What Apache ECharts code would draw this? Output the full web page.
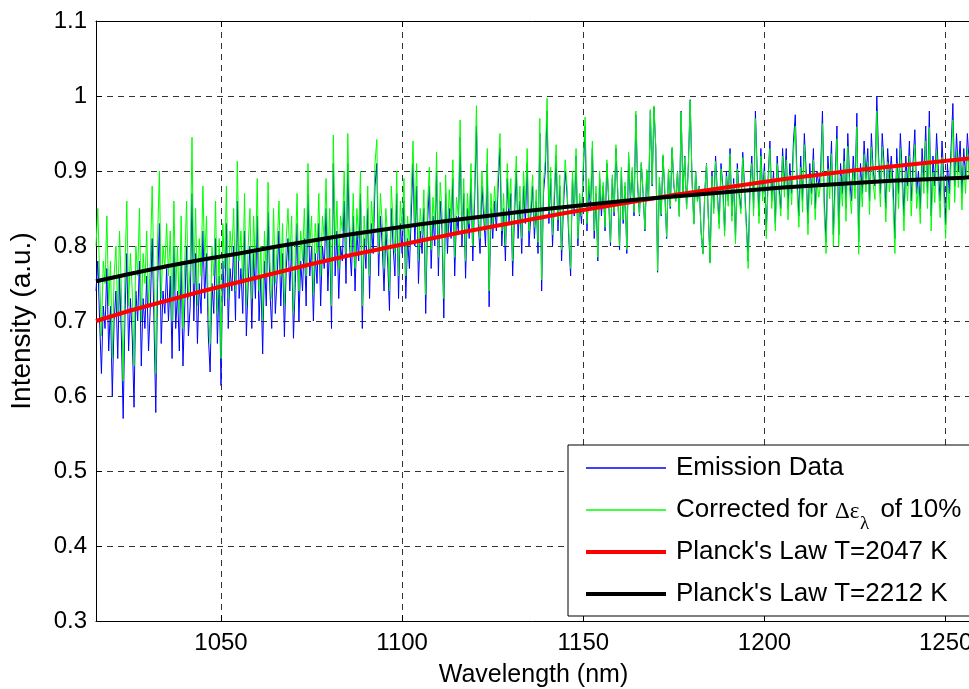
<!DOCTYPE html>
<html>
<head>
<meta charset="utf-8">
<script src="https://cdn.jsdelivr.net/npm/echarts@6/dist/echarts.min.js"></script>
<style>
  html, body { margin: 0; padding: 0; background: #ffffff; }
  #chart { width: 969px; height: 689px; }
</style>
</head>
<body>
<div id="chart"></div>
<script>
// Spectrum sampling: first wavelength and step (nm)
const wavelengthStart = 1015.5;
const wavelengthStep = 0.5;

// Measured emission intensity (a.u.), one value per 0.5 nm
const emissionData = [
  0.74,0.78,0.70,0.63,0.72,0.69,0.77,0.66,0.72,0.60,0.70,0.74,0.65,0.76,0.68,0.57,0.71,0.79,0.66,0.73,
  0.68,0.585,0.74,0.70,0.78,0.64,0.73,0.69,0.76,0.66,0.72,0.81,0.70,0.578,0.75,0.83,0.67,0.74,0.71,0.77,
  0.70,0.76,0.65,0.80,0.69,0.74,0.66,0.78,0.64,0.72,0.80,0.68,0.72,0.87,0.70,0.79,0.67,0.75,0.71,0.82,
  0.73,0.79,0.68,0.632,0.75,0.71,0.81,0.67,0.76,0.614,0.78,0.72,0.83,0.69,0.77,0.74,0.80,0.70,0.86,0.73,
  0.77,0.71,0.82,0.68,0.75,0.80,0.69,0.79,0.73,0.84,0.70,0.76,0.656,0.78,0.72,0.845,0.74,0.69,0.80,0.71,
  0.76,0.82,0.72,0.79,0.679,0.77,0.81,0.74,0.80,0.677,0.75,0.83,0.70,0.78,0.74,0.81,0.72,0.87,0.76,0.80,
  0.70,0.79,0.75,0.83,0.72,0.80,0.77,0.85,0.74,0.81,0.69,0.91,0.76,0.82,0.73,0.80,0.78,0.86,0.75,0.91,
  0.80,0.76,0.84,0.74,0.82,0.78,0.87,0.69,0.81,0.77,0.85,0.73,0.83,0.79,0.88,0.91,0.76,0.84,0.80,0.74,
  0.82,0.78,0.714,0.85,0.80,0.76,0.87,0.73,0.83,0.79,0.86,0.73,0.81,0.77,0.84,0.91,0.80,0.88,0.75,0.82,
  0.79,0.85,0.71,0.83,0.88,0.77,0.84,0.80,0.90,0.76,0.86,0.82,0.704,0.87,0.79,0.85,0.81,0.89,0.76,0.84,
  0.82,0.945,0.80,0.87,0.757,0.85,0.81,0.89,0.78,0.86,0.96,0.83,0.79,0.88,0.84,0.80,0.91,0.719,0.85,0.81,
  0.86,0.82,0.88,0.93,0.80,0.85,0.78,0.89,0.83,0.87,0.76,0.84,0.90,0.81,0.86,0.79,0.88,0.83,0.91,0.80,
  0.84,0.88,0.81,0.86,0.79,0.95,0.74,0.87,0.90,0.98,0.83,0.89,0.80,0.86,0.92,0.82,0.88,0.78,0.85,0.90,
  0.87,0.81,0.76,0.89,0.84,0.92,0.80,0.86,0.83,0.90,0.96,0.82,0.88,0.85,0.93,0.81,0.87,0.78,0.89,0.84,
  0.88,0.82,0.91,0.86,0.80,0.89,0.84,0.93,0.87,0.795,0.90,0.83,0.88,0.79,0.92,0.86,0.90,0.84,0.975,0.88,
  0.84,0.91,0.87,0.82,0.90,0.86,0.98,0.88,0.985,0.93,0.765,0.89,0.84,0.92,0.87,0.81,0.90,0.85,0.93,0.88,
  0.86,0.90,0.84,0.98,0.87,0.92,0.85,0.91,0.995,0.89,0.83,0.90,0.86,0.88,0.82,0.79,0.87,0.91,0.84,0.778,
  0.90,0.85,0.92,0.87,0.83,0.91,0.88,0.82,0.90,0.86,0.93,0.84,0.89,0.81,0.91,0.87,0.85,0.925,0.88,0.83,
  0.78,0.88,0.92,0.85,0.98,0.90,0.84,0.93,0.87,0.91,0.82,0.89,0.94,0.86,0.90,0.83,0.92,0.88,0.85,0.93,
  0.88,0.93,0.85,0.91,0.87,0.94,0.975,0.89,0.84,0.92,0.86,0.95,0.90,0.83,0.91,0.87,0.93,0.85,0.90,0.88,
  0.90,0.98,0.86,0.805,0.92,0.88,0.94,0.815,0.89,0.96,0.815,0.91,0.87,0.93,0.85,0.95,0.89,0.86,0.92,0.88,
  0.977,0.805,0.91,0.87,0.94,0.89,0.93,0.86,0.95,0.90,0.88,1.0,0.92,0.87,0.95,0.91,0.85,0.93,0.89,0.92,
  0.88,0.81,0.93,0.87,0.95,0.90,0.84,0.92,0.88,0.94,0.86,0.91,0.955,0.87,0.90,0.85,0.93,0.89,0.96,0.87,
  0.98,0.84,0.92,0.88,0.95,0.90,0.86,0.94,0.89,0.83,0.91,0.87,0.93,0.99,0.88,0.95,0.90,0.94,0.87,0.93,
  0.89,0.95,0.91,0.88
];

// Same spectrum after the 10% emissivity correction
const correctedData = [
  0.80,0.85,0.76,0.68,0.78,0.75,0.84,0.72,0.78,0.65,0.76,0.80,0.71,0.82,0.74,0.62,0.77,0.86,0.72,0.79,
  0.74,0.64,0.80,0.76,0.85,0.70,0.79,0.75,0.82,0.72,0.78,0.88,0.76,0.63,0.81,0.90,0.73,0.80,0.77,0.83,
  0.76,0.82,0.70,0.86,0.74,0.80,0.71,0.84,0.69,0.78,0.86,0.73,0.77,0.945,0.75,0.85,0.72,0.81,0.76,0.88,
  0.78,0.84,0.72,0.67,0.80,0.76,0.86,0.71,0.81,0.65,0.83,0.77,0.88,0.73,0.82,0.79,0.85,0.74,0.913,0.78,
  0.82,0.75,0.87,0.72,0.80,0.85,0.73,0.84,0.77,0.89,0.74,0.80,0.70,0.82,0.76,0.885,0.78,0.73,0.85,0.75,
  0.80,0.86,0.76,0.83,0.72,0.81,0.85,0.78,0.84,0.71,0.79,0.87,0.74,0.82,0.78,0.85,0.76,0.91,0.80,0.84,
  0.735,0.83,0.79,0.87,0.76,0.84,0.81,0.89,0.78,0.85,0.72,0.948,0.80,0.86,0.77,0.84,0.82,0.90,0.79,0.95,
  0.83,0.79,0.87,0.77,0.85,0.81,0.90,0.72,0.84,0.80,0.88,0.76,0.86,0.82,0.91,0.942,0.79,0.87,0.83,0.77,
  0.85,0.81,0.74,0.88,0.83,0.79,0.90,0.76,0.86,0.82,0.89,0.76,0.84,0.80,0.87,0.94,0.83,0.91,0.78,0.85,
  0.815,0.875,0.735,0.855,0.905,0.795,0.865,0.825,0.925,0.785,0.885,0.845,0.73,0.895,0.815,0.875,0.835,0.915,0.785,0.865,
  0.84,0.968,0.82,0.89,0.78,0.87,0.83,0.91,0.80,0.88,0.987,0.85,0.81,0.90,0.86,0.82,0.93,0.74,0.87,0.83,
  0.88,0.84,0.90,0.95,0.82,0.87,0.80,0.91,0.85,0.89,0.78,0.86,0.92,0.83,0.88,0.81,0.90,0.85,0.93,0.82,
  0.855,0.895,0.825,0.875,0.805,0.97,0.755,0.885,0.915,0.997,0.845,0.905,0.815,0.875,0.935,0.835,0.895,0.795,0.865,0.915,
  0.88,0.82,0.77,0.90,0.85,0.93,0.81,0.87,0.84,0.91,0.972,0.83,0.89,0.86,0.94,0.82,0.88,0.785,0.90,0.85,
  0.885,0.825,0.915,0.865,0.805,0.895,0.845,0.935,0.875,0.80,0.905,0.835,0.885,0.795,0.925,0.865,0.905,0.845,0.98,0.885,
  0.842,0.912,0.872,0.822,0.902,0.862,0.982,0.882,0.987,0.932,0.767,0.892,0.842,0.922,0.872,0.812,0.902,0.852,0.932,0.882,
  0.859,0.899,0.839,0.979,0.869,0.919,0.849,0.909,0.994,0.889,0.829,0.899,0.859,0.879,0.819,0.789,0.869,0.909,0.839,0.777,
  0.893,0.843,0.913,0.863,0.823,0.903,0.873,0.813,0.893,0.853,0.923,0.833,0.883,0.803,0.903,0.863,0.843,0.918,0.873,0.823,
  0.77,0.87,0.91,0.84,0.97,0.89,0.83,0.92,0.86,0.90,0.81,0.88,0.93,0.85,0.89,0.82,0.91,0.87,0.84,0.92,
  0.865,0.915,0.835,0.895,0.855,0.925,0.96,0.875,0.825,0.905,0.845,0.935,0.885,0.815,0.895,0.855,0.915,0.835,0.885,0.865,
  0.883,0.963,0.843,0.79,0.903,0.863,0.923,0.80,0.873,0.943,0.80,0.893,0.853,0.913,0.833,0.933,0.873,0.843,0.903,0.863,
  0.959,0.789,0.892,0.852,0.922,0.872,0.912,0.842,0.932,0.882,0.862,0.98,0.902,0.852,0.932,0.892,0.832,0.912,0.872,0.902,
  0.86,0.79,0.91,0.85,0.93,0.88,0.82,0.90,0.86,0.92,0.84,0.89,0.935,0.85,0.88,0.83,0.91,0.87,0.94,0.85,
  0.958,0.82,0.898,0.858,0.928,0.878,0.838,0.918,0.868,0.81,0.888,0.848,0.908,0.968,0.858,0.928,0.878,0.918,0.848,0.908,
  0.87,0.93,0.89,0.86
];

// Planck's law curves (normalised), sampled every 10 nm
const planckWavelengths = [1015.5, 1025, 1035, 1045, 1055, 1065, 1075, 1085, 1095, 1105, 1115, 1125, 1135,
  1145, 1155, 1165, 1175, 1185, 1195, 1205, 1215, 1225, 1235, 1245, 1255, 1257];
const planck2047K = [0.700, 0.714, 0.727, 0.740, 0.752, 0.764, 0.776, 0.787, 0.797, 0.807, 0.817, 0.826, 0.835,
  0.844, 0.852, 0.860, 0.868, 0.875, 0.882, 0.889, 0.895, 0.901, 0.906, 0.911, 0.916, 0.917];
const planck2212K = [0.753, 0.763, 0.773, 0.782, 0.790, 0.799, 0.807, 0.815, 0.822, 0.829, 0.835, 0.841, 0.847,
  0.852, 0.857, 0.862, 0.866, 0.870, 0.874, 0.878, 0.881, 0.884, 0.887, 0.889, 0.891, 0.892];

// Axis extents
const xRange = [1015.5, 1257];
const yRange = [0.3, 1.1];

const seriesNames = ['Emission Data', 'Corrected for \u0394\u03b5 of 10%', "Planck's Law T=2047 K", "Planck's Law T=2212 K"];
const seriesColors = ['#0000ff', '#00ff00', '#ff0000', '#000000'];

const FONT = '"Liberation Sans", Arial, Helvetica, sans-serif';
const SERIF = '"Liberation Serif", "DejaVu Serif", serif';

const spectrum = values => values.map((v, i) => [wavelengthStart + i * wavelengthStep, v]);
const curve = values => values.map((v, i) => [planckWavelengths[i], v]);

// legend swatches: thin stroke for the spectra, thick stroke for the fits
const thinSwatch = 'path://M0,0H80V1.4H0Z';
const thickSwatch = 'path://M0,0H80V4H0Z';

const chart = echarts.init(document.getElementById('chart'), null, { renderer: 'canvas' });

const gridDash = { color: '#000', width: 1, type: [6, 5], opacity: 0.8 };

chart.setOption({
  animation: false,
  backgroundColor: '#ffffff',
  grid: { left: 96, top: 21, width: 875, height: 600, containLabel: false, outerBoundsMode: 'none' },
  xAxis: [{
    type: 'value',
    min: xRange[0],
    max: xRange[1],
    splitNumber: 5,
    name: 'Wavelength (nm)',
    nameLocation: 'middle',
    nameGap: 42,
    nameTextStyle: { fontFamily: FONT, fontSize: 25, color: '#000' },
    axisLine: { show: true, lineStyle: { color: '#000', width: 1 } },
    axisTick: { show: true, inside: true, length: 6, lineStyle: { color: '#000' } },
    axisLabel: { show: true, fontFamily: FONT, fontSize: 24, color: '#000', margin: 10,
                 showMinLabel: false, showMaxLabel: false, formatter: v => String(v) },
    splitLine: { show: true, lineStyle: gridDash }
  }, {
    type: 'value',
    position: 'top',
    min: xRange[0],
    max: xRange[1],
    splitNumber: 5,
    axisLine: { show: true, lineStyle: { color: '#000', width: 1 } },
    axisTick: { show: true, inside: true, length: 6, lineStyle: { color: '#000' } },
    axisLabel: { show: false },
    splitLine: { show: false }
  }],
  yAxis: {
    type: 'value',
    min: yRange[0],
    max: yRange[1],
    interval: 0.1,
    name: 'Intensity (a.u.)',
    nameLocation: 'middle',
    nameGap: 60,
    nameTextStyle: { fontFamily: FONT, fontSize: 28, color: '#000' },
    axisLine: { show: true, lineStyle: { color: '#000', width: 1 } },
    axisTick: { show: true, inside: true, length: 6, lineStyle: { color: '#000' } },
    axisLabel: { fontFamily: FONT, fontSize: 24, color: '#000', margin: 9 },
    splitLine: { show: true, lineStyle: gridDash }
  },
  legend: {
    orient: 'vertical',
    left: 568,
    top: 445,
    padding: [10, 60, 9, 18],
    itemGap: 16,
    itemWidth: 80,
    itemHeight: 14,
    symbolKeepAspect: true,
    backgroundColor: '#ffffff',
    borderColor: '#000',
    borderWidth: 1,
    borderRadius: 0,
    selectedMode: false,
    data: seriesNames.map((name, i) => ({
      name,
      icon: i < 2 ? thinSwatch : thickSwatch,
      itemStyle: { color: seriesColors[i], opacity: 1 }
    })),
    formatter: name => {
      if (name === seriesNames[1]) {
        // room is left after the epsilon for its lambda subscript
        return '{a|Corrected for }{d|\u0394\u03b5}{sp| }{a|of 10%}';
      }
      return '{a|' + name + '}';
    },
    textStyle: {
      fontFamily: FONT,
      fontSize: 26,
      color: '#000',
      padding: [0, 0, 0, 5],
      rich: {
        a: { fontFamily: FONT, fontSize: 26, color: '#000' },
        d: { fontFamily: SERIF, fontSize: 23, color: '#000', padding: [3, 0, 0, 0] },
        sp: { fontFamily: FONT, fontSize: 26, width: 21 }
      }
    }
  },
  // lambda subscript of the epsilon in the second legend entry
  graphic: [{
    type: 'text',
    left: 860,
    top: 515,
    z: 100,
    silent: true,
    style: { text: '\u03bb', font: '19px "Liberation Serif", "DejaVu Serif", serif', fill: '#000' }
  }],
  series: seriesNames.map((name, i) => ({
    name,
    type: 'line',
    data: i === 0 ? spectrum(emissionData)
        : i === 1 ? spectrum(correctedData)
        : i === 2 ? curve(planck2047K)
        : curve(planck2212K),
    symbol: 'none',
    showSymbol: false,
    z: 2 + i,
    lineStyle: { color: seriesColors[i], width: i < 2 ? 1 : 4 },
    itemStyle: { color: seriesColors[i] }
  }))
});
</script>
</body>
</html>
